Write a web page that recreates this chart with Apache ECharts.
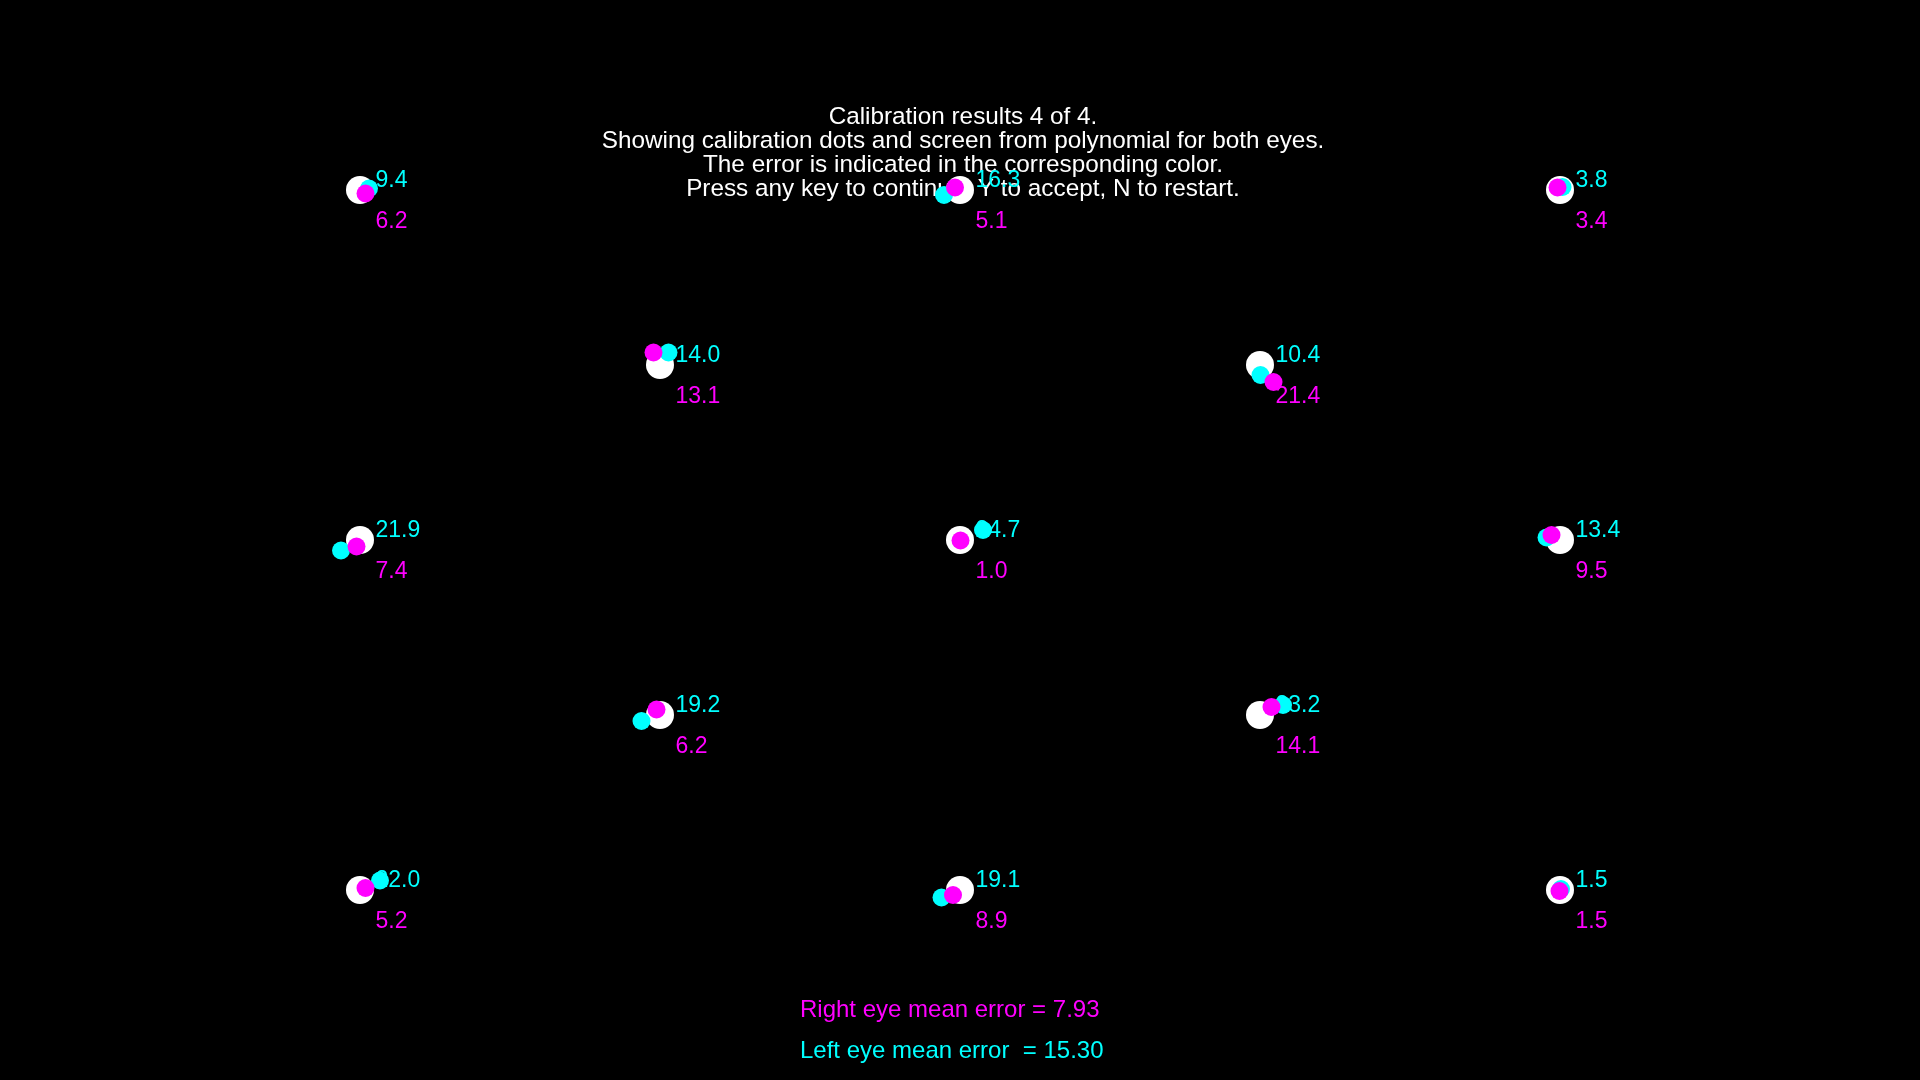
<!DOCTYPE html>
<html>
<head>
<meta charset="utf-8">
<script src="https://cdn.jsdelivr.net/npm/echarts@6/dist/echarts.min.js"></script>
<style>
  html, body { margin: 0; padding: 0; background: #000; }
  #chart { width: 1920px; height: 1080px; }
</style>
</head>
<body>
<div id="chart"></div>
<script>
// Calibration targets (screen px)
const targetX = [360, 960, 1560, 660, 1260, 360, 960, 1560, 660, 1260, 360, 960, 1560];
const targetY = [190, 190, 190, 365, 365, 540, 540, 540, 715, 715, 890, 890, 890];
// Left eye (cyan) estimated positions
const leftX = [369, 944, 1562.5, 668.5, 1260.5, 341, 983, 1546.5, 641.5, 1283, 380, 941.5, 1561];
const leftY = [188.5, 195, 187, 352.5, 375, 550.5, 530, 537.5, 721, 705, 880.5, 897.5, 889];
// Right eye (magenta) estimated positions
const rightX = [365.5, 955, 1557.5, 653.5, 1273.5, 356.5, 960.5, 1551.5, 656.5, 1271.5, 365.5, 953, 1559.5];
const rightY = [193.5, 187.5, 187.5, 352.5, 382, 546.5, 540.5, 535, 709.5, 707, 888, 895, 891];
// Errors
const leftErr = [9.4, 16.3, 3.8, 14.0, 10.4, 21.9, 24.7, 13.4, 19.2, 23.2, 22.0, 19.1, 1.5];
const rightErr = [6.2, 5.1, 3.4, 13.1, 21.4, 7.4, 1.0, 9.5, 6.2, 14.1, 5.2, 8.9, 1.5];
// Texts
const titleLines = [
  'Calibration results 4 of 4.',
  'Showing calibration dots and screen from polynomial for both eyes.',
  'The error is indicated in the corresponding color.',
  'Press any key to continue, Y to accept, N to restart.'
];
const rightMeanText = 'Right eye mean error = 7.93';
const leftMeanText = 'Left eye mean error  = 15.30';

const FONT = '"Liberation Sans", Arial, sans-serif';
const CYAN = '#00ffff';
const MAGENTA = '#ff00ff';

const chart = echarts.init(document.getElementById('chart'));

const targets = targetX.map((x, i) => [x, targetY[i]]);
const leftPts = leftX.map((x, i) => [x, leftY[i]]);
const rightPts = rightX.map((x, i) => [x, rightY[i]]);
const leftLab = targetX.map((x, i) => [x, targetY[i], leftErr[i]]);
const rightLab = targetX.map((x, i) => [x, targetY[i], rightErr[i]]);

function labelSeries(name, data, color, dy) {
  return {
    name: name,
    type: 'scatter',
    z: 2,
    data: data,
    symbolSize: 1,
    itemStyle: { color: 'rgba(0,0,0,0)', opacity: 1 },
    label: {
      show: true,
      position: 'right',
      distance: 15,
      offset: [0, dy],
      formatter: p => p.value[2].toFixed(1),
      color: color,
      fontFamily: FONT,
      fontSize: 23,
      verticalAlign: 'middle'
    },
    silent: true
  };
}

function dotSeries(name, data, color, size, z) {
  return {
    name: name, type: 'scatter', z: z, data: data, symbolSize: size,
    itemStyle: { color: color, opacity: 1 },
    emphasis: { disabled: true },
    silent: true
  };
}

chart.setOption({
  backgroundColor: '#000000',
  animation: false,
  grid: { left: 0, right: 0, top: 0, bottom: 0 },
  xAxis: { type: 'value', min: 0, max: 1920, show: false },
  yAxis: { type: 'value', min: 0, max: 1080, inverse: true, show: false },
  graphic: [
    {
      type: 'text', z: 0, x: 963, y: 105.5,
      style: {
        text: titleLines.join('\n'),
        fill: '#ffffff',
        font: '24.3px ' + FONT,
        lineHeight: 24,
        align: 'center',
        verticalAlign: 'top'
      }
    },
    {
      type: 'text', z: 0, x: 800, y: 1010.5,
      style: { text: rightMeanText, fill: MAGENTA, font: '24px ' + FONT, verticalAlign: 'middle' }
    },
    {
      type: 'text', z: 0, x: 800, y: 1051.5,
      style: { text: leftMeanText, fill: CYAN, font: '24px ' + FONT, verticalAlign: 'middle' }
    }
  ],
  series: [
    labelSeries('leftErr', leftLab, CYAN, -9.5),
    labelSeries('rightErr', rightLab, MAGENTA, 31.5),
    dotSeries('targets', targets, '#ffffff', 28, 3),
    dotSeries('left eye', leftPts, CYAN, 18, 4),
    dotSeries('right eye', rightPts, MAGENTA, 18, 5)
  ]
});
</script>
</body>
</html>
